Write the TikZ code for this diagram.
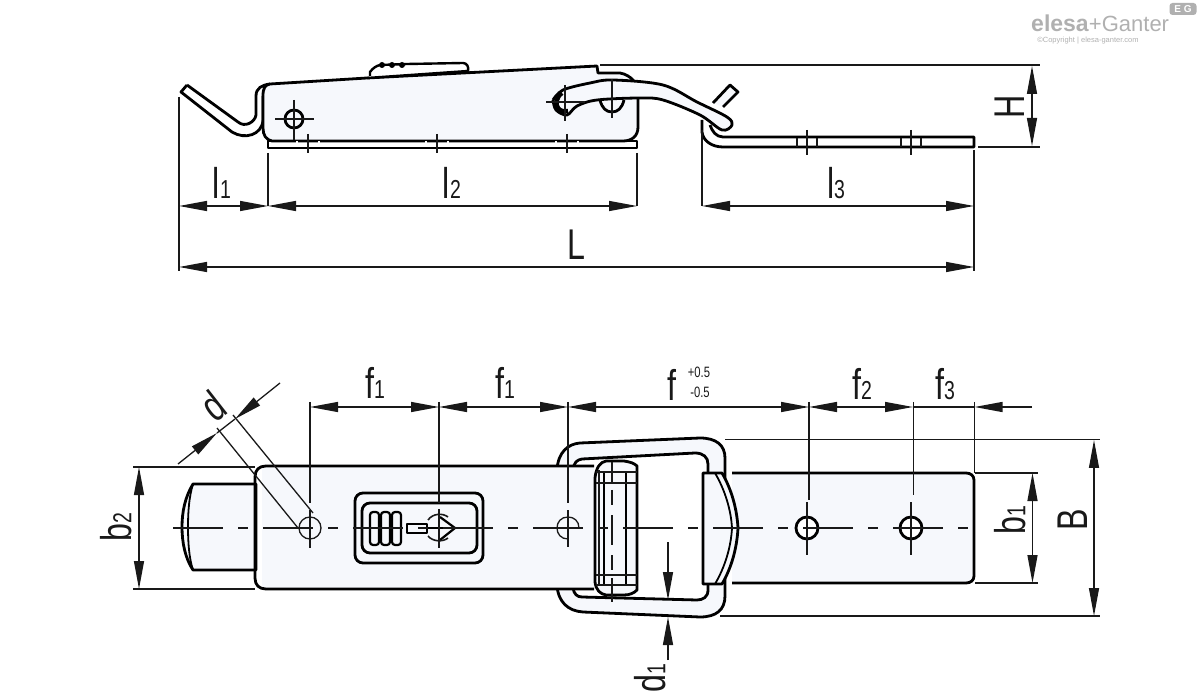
\documentclass[tikz,border=0pt]{standalone}
\usepackage{fontspec}
\setmainfont[FakeStretch=0.75]{Liberation Sans}
\newfontfamily\logofont{Liberation Sans}
\usetikzlibrary{arrows.meta}
\definecolor{partfill}{HTML}{F6F8FC}
\definecolor{logogray}{HTML}{B0B0B0}
\newcommand{\dimtxt}[2]{\fontsize{43}{43}\selectfont #1\fontsize{26}{26}\selectfont #2}
\tikzset{>={Triangle[length=28pt,width=10pt]}}
\begin{document}
\begin{tikzpicture}[
  x=1pt, y=-1pt,
  outline/.style={draw=black, line width=2.8pt, line join=round},
  part/.style={outline, fill=partfill},
  thinline/.style={draw=black!90, line width=1.3pt},
  dimline/.style={draw=black!90, line width=1.3pt},
  axisline/.style={thinline, dash pattern=on 50pt off 15pt on 10pt off 15pt},
  dimlabel/.style={inner sep=0pt, text=black!90},
  logotext/.style={inner sep=0pt, text=logogray}
]
\useasboundingbox (0,0) rectangle (1200,700);

% Logo
\node[logotext, font=\logofont\bfseries\fontsize{23}{23}\selectfont] (logoA) at (1060,23) {elesa};
\node[logotext, font=\logofont\fontsize{22}{22}\selectfont] (logoB) at (1129,24) {+Ganter};
\node[logotext, font=\logofont\fontsize{7.5}{7.5}\selectfont] (logoC) at (1088,41) {©Copyright | elesa-ganter.com};
\node[fill=logogray, rounded corners=3pt, inner sep=2pt, minimum width=27pt, minimum height=12pt, text=white, font=\logofont\bfseries\fontsize{10}{10}\selectfont] (logoD) at (1183,9) {E G};

% Side view: far plate
\draw[outline] (702,120) -- (702,132) .. controls (703,141) and (712,147) .. (723,147) -- (974,147) -- (974,137) -- (723,137) .. controls (716,137) and (712,131) .. (710,125);
\foreach \x in {807,911} {
  \draw[thinline] (\x,130) -- (\x,155);
  \draw[thinline] (\x-10,138) -- (\x-10,147) (\x+10,138) -- (\x+10,147);
}

% Side view: hook and body
\draw[outline] (187,85) -- (181,92) -- (232,132) .. controls (245,140) and (262,135) .. (263,120) -- (263,96);
\draw[outline] (187,85) -- (238,122) .. controls (245,128) and (255,122) .. (256,115) -- (256,96) .. controls (256,88) and (262,85) .. (270,84);
\draw[outline, fill=white] (268,141) rectangle (637,148);
\draw[part] (270,84) -- (367,78) -- (597,66) -- (598,73) -- (620,73) .. controls (626,74) and (630,77) .. (633,80) -- (638,98) -- (638,127) .. controls (638,136) and (632,141) .. (623,141) -- (272,141) .. controls (266,140) and (263,135) .. (263,128) -- (263,96) .. controls (263,88) and (265,85) .. (270,84);
\draw[outline, line width=2.4pt, fill=white] (370,76) -- (370,72) .. controls (373,68) and (376,66) .. (380,65) -- (407,64) -- (463,63) .. controls (467,63) and (469,67) .. (468,71) -- (367,78);
\foreach \x in {382,392,402} {
  \fill (\x,65) circle (3);
}
\foreach \x in {308,437,567} {
  \draw[thinline] (\x,134) -- (\x,153);
  \draw[thinline, draw=white] (\x-11,141) -- (\x-11,147) (\x+11,141) -- (\x+11,147);
}
\draw[outline] (294,119) circle (9);
\draw[thinline] (275,119) -- (314,119) (294,100) -- (294,140);

% Side view: lever
\draw[part] plot[smooth, tension=0.55] coordinates {(553,100) (563,90) (590,83) (613,80) (663,85) (697,102) (727,117) (732,125) (722,130) (700,115) (663,100) (640,98) (597,100) (577,106) (567,115) (556,110) (553,100)};
\draw[outline, line width=4.5pt] (562,93) .. controls (556,97) and (555,105) .. (558,108) .. controls (560,111) and (564,112) .. (568,111);
\draw[part] (713,103) -- (730,85) -- (738,92) -- (723,107);
\draw[outline] (600,100) .. controls (602,108) and (606,112) .. (612,112) .. controls (618,112) and (622,108) .. (624,100);
\draw[thinline] (612,79) -- (612,118) (565,85) -- (565,121) (546,102) -- (585,102);

% Side view: dimensions
\coordinate (topA) at (179,206);
\coordinate (topB) at (268,206);
\coordinate (topC) at (637,206);
\coordinate (topD) at (702,206);
\coordinate (topE) at (974,206);
\draw[thinline] (179,97) -- (179,271) (268,153) -- (topB) (637,153) -- (topC) (702,130) -- (topD) (974,150) -- (974,271);
\draw[thinline] (600,65) -- (1040,65) (978,147) -- (1040,147);
\draw[dimline, <->] (topA) -- (topB);
\draw[dimline, <->] (topB) -- (topC);
\draw[dimline, <->] (topD) -- (topE);
\draw[dimline, <->] (179,267) -- (974,267);
\draw[dimline, <->] (1032,66) -- (1032,146);
\node[dimlabel] (lenA) at (222,183) {\dimtxt{l}{1}};
\node[dimlabel] (lenB) at (452,183) {\dimtxt{l}{2}};
\node[dimlabel] (lenC) at (836,183) {\dimtxt{l}{3}};
\node[dimlabel] (lenL) at (576,245) {\dimtxt{L}{}};
\node[dimlabel, rotate=90] (lenH) at (1010,107) {\dimtxt{H}{}};

% Top view: buckle ring
\draw[part, even odd rule] (557,470) .. controls (558,452) and (568,444) .. (580,443) -- (700,438) .. controls (716,438) and (725,445) .. (725,458) -- (725,596) .. controls (725,610) and (716,617) .. (700,617) -- (583,612) .. controls (568,611) and (558,602) .. (557,585) -- cycle
  (573,470) .. controls (574,462) and (577,460) .. (582,459) -- (695,453) .. controls (703,453) and (708,457) .. (708,464) -- (708,590) .. controls (708,597) and (703,600) .. (697,600) -- (582,597) .. controls (577,597) and (574,594) .. (573,588) -- cycle;

% Top view: body and tongue
\draw[part] (193,484) -- (256,484) -- (256,570) -- (193,570) .. controls (185,558) and (182,542) .. (182,527) .. controls (182,512) and (185,497) .. (193,484) -- cycle;
\draw[outline, line width=1.8pt] (193,484) .. controls (189,497) and (188,512) .. (188,527) .. controls (188,542) and (189,558) .. (193,570);
\fill[partfill] (262,466) rectangle (594,589);
\draw[outline] (594,466) -- (266,466) .. controls (259,466) and (255,470) .. (255,477) -- (255,578) .. controls (255,585) and (259,589) .. (266,589) -- (594,589);

% Top view: right plate
\draw[part] (732,473) -- (966,473) .. controls (971,473) and (974,476) .. (974,480) -- (974,576) .. controls (974,580) and (971,583) .. (966,583) -- (732,583);
\draw[part] (703,473) -- (722,473) .. controls (732,490) and (737,510) .. (738,528) .. controls (737,547) and (732,567) .. (722,584) -- (703,584) -- cycle;
\draw[outline, line width=1.8pt] (715,473) .. controls (725,490) and (731,510) .. (732,528) .. controls (731,547) and (725,567) .. (715,584);
\foreach \x in {807,911} {
  \draw[outline, fill=white] (\x,528) circle (11);
  \draw[thinline] (\x,502) -- (\x,555);
}

% Top view: roller
\draw[part] (595,478) .. controls (596,468) and (600,462) .. (606,461) -- (624,461) .. controls (630,462) and (634,463) .. (637,466) -- (637,590) .. controls (634,593) and (630,595) .. (624,595) -- (606,595) .. controls (600,594) and (596,590) .. (595,582) -- cycle;
\draw[thinline] (599,470) -- (599,586);
\draw[outline, line width=2.6pt] (604,472) -- (604,585) (626,472) -- (626,585);
\draw[thinline, line width=1.6pt] (596,472) -- (637,472) (596,483) -- (637,483) (596,575) -- (637,575) (596,585) -- (637,585);
\draw[thinline] (612,462) -- (612,483) (612,490) -- (612,505) (612,515) -- (612,545) (612,555) -- (612,570) (612,578) -- (612,602);

% Top view: lock
\draw[outline, rounded corners=8pt, fill=partfill] (355,493) rectangle (483,563);
\draw[outline, rounded corners=8pt, fill=partfill] (362,503) rectangle (477,553);
\foreach \x in {370,381,392} {
  \draw[outline, rounded corners=3pt, line width=2.2pt] (\x,512) rectangle (\x+9,545);
}
\draw[outline, line width=2.2pt] (407,524) rectangle (427,533);
\draw[outline, line width=2.2pt] (427,528) -- (448,528);
\draw[outline, line width=2.2pt] (440,517) -- (455,528) -- (440,540);
\draw[thinline, line width=1.6pt] (448,517) .. controls (443,513) and (433,513) .. (428,520) (428,536) .. controls (433,542) and (443,542) .. (448,538);

% Top view: holes and axis
\draw[thinline] (310,528) circle (11);
\draw[thinline] (579,528) .. controls (579,521) and (574,517) .. (568,517) .. controls (561,517) and (557,522) .. (557,528) .. controls (557,534) and (561,539) .. (568,539);
\draw[axisline] (173,528) -- (968,528);
\draw[thinline] (310,510) -- (310,548) (439,509) -- (439,548) (568,510) -- (568,547);

% Top view: dimensions
\coordinate (pitchA) at (310,407);
\coordinate (pitchB) at (439,407);
\coordinate (pitchC) at (568,407);
\coordinate (pitchD) at (809,407);
\coordinate (pitchE) at (913,407);
\coordinate (pitchF) at (974.5,407);
\coordinate (pitchG) at (1032,407);
\draw[thinline] (310,402) -- (310,503) (439,402) -- (439,503) (568,402) -- (568,503) (809,402) -- (809,500) (913.5,402) -- (913.5,495) (974.5,402) -- (974.5,473);
\draw[dimline, <->] (pitchA) -- (pitchB);
\draw[dimline, <->] (pitchB) -- (pitchC);
\draw[dimline, <->] (pitchC) -- (pitchD);
\draw[dimline, <->] (pitchD) -- (pitchE);
\draw[dimline] (pitchE) -- (pitchF);
\draw[dimline, ->] (pitchG) -- (pitchF);
\node[dimlabel] (pitchLa) at (375,383) {\dimtxt{f}{1}};
\node[dimlabel] (pitchLb) at (505,383) {\dimtxt{f}{1}};
\node[dimlabel] (pitchLc) at (672,385) {\dimtxt{f}{}};
\node[dimlabel, font=\fontsize{15}{15}\selectfont] (tolA) at (699,372) {+0.5};
\node[dimlabel, font=\fontsize{15}{15}\selectfont] (tolB) at (700,392) {-0.5};
\node[dimlabel] (pitchLd) at (862,384) {\dimtxt{f}{2}};
\node[dimlabel] (pitchLe) at (945,384) {\dimtxt{f}{3}};

\draw[thinline] (725,439.5) -- (1100,439.5) (720,616) -- (1100,616);
\draw[thinline] (975,473) -- (1038,473) (975,583) -- (1038,583);
\draw[thinline] (133,467) -- (255,467) (133,589) -- (255,589);
\draw[dimline, <->] (1094,440) -- (1094,616);
\draw[dimline, <->] (1032.5,473) -- (1032.5,583);
\draw[dimline, <->] (139,467) -- (139,589);
\node[dimlabel, rotate=90] (widB) at (1073,520) {\dimtxt{B}{}};
\node[dimlabel, rotate=90] (widC) at (1010,520) {\dimtxt{b}{1}};
\node[dimlabel, rotate=90] (widA) at (116,527) {\dimtxt{b}{2}};

% Thickness d1
\draw[dimline, ->] (668,542) -- (668,600);
\draw[dimline, ->] (668,660) -- (668,617);
\node[dimlabel, rotate=90] (thick) at (650,678) {\dimtxt{d}{1}};

% Diameter d
\coordinate (diaA) at (217,433);
\coordinate (diaB) at (235,419);
\draw[thinline] (298,528) -- (217,428) (313,513) -- (233,415);
\draw[dimline] (diaA) -- (diaB);
\draw[dimline, ->] (178,464) -- (diaA);
\draw[dimline, ->] (280,383) -- (diaB);
\node[dimlabel, rotate=38] (diaL) at (213,406) {\dimtxt{d}{}};

\end{tikzpicture}
\end{document}
